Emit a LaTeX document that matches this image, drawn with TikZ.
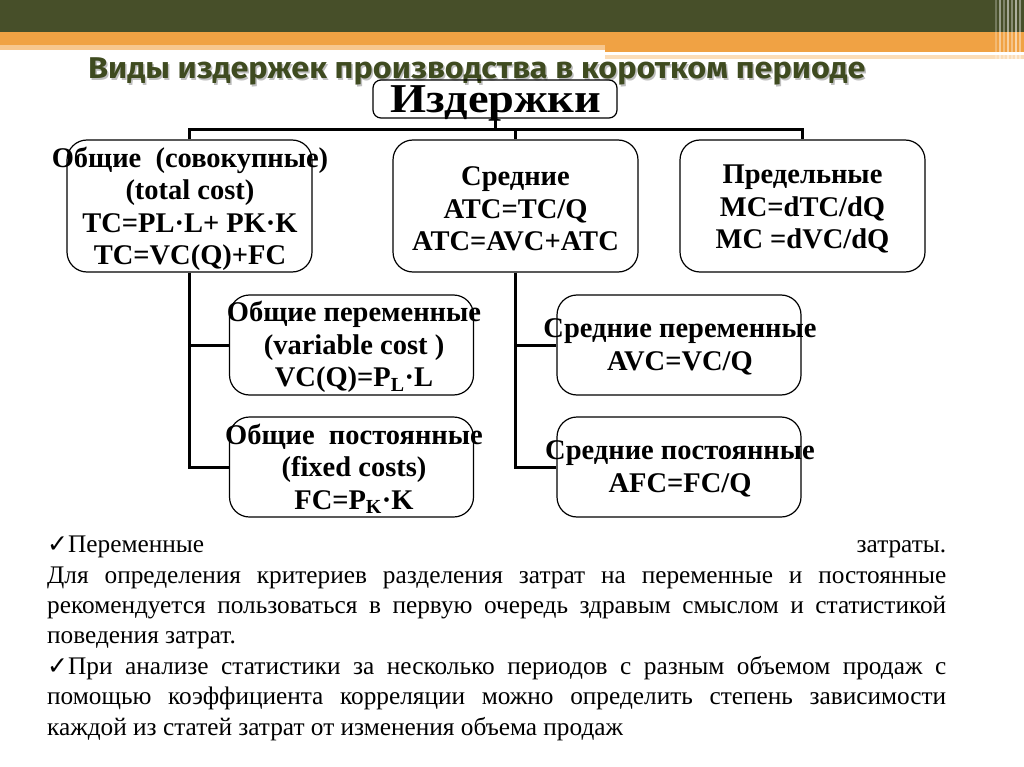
\documentclass[tikz,border=0pt]{standalone}
\usepackage{fontspec}
\setmainfont{Liberation Serif}
\newfontfamily\titlefont{Fira Sans}
\newfontfamily\symfont{DejaVu Sans}
\definecolor{topgreen}{HTML}{474F29}
\definecolor{orA}{HTML}{F0A244}
\definecolor{orB}{HTML}{F7C78F}
\definecolor{orC}{HTML}{FBDDB8}
\definecolor{titlecol}{HTML}{3F4B20}
\newcommand{\titletext}{\scalebox{1.08}[1]{Виды издержек производства в коротком периоде}}
\newcommand{\chk}{{\symfont\fontsize{25}{26}\selectfont ✓}}
\begin{document}
\begin{tikzpicture}[x=1pt,y=-1pt,
  box/.style={draw, line width=1.2pt, rounded corners=20pt, inner sep=0pt},
  bigbox/.style={box, minimum width=245pt, minimum height=132pt},
  smallbox/.style={box, minimum width=244pt, minimum height=100pt},
  conn/.style={line width=3pt},
  btxt/.style={font=\fontsize{28.5}{32.5}\selectfont\bfseries, align=center, inner sep=0pt},
  body/.style={font=\fontsize{25.3}{28}\selectfont, anchor=base west, inner sep=0pt},
  ttl/.style={anchor=base west, inner sep=0pt, font=\titlefont\bfseries\fontsize{30}{32}\selectfont}]
\useasboundingbox (0,0) rectangle (1024,767);
% top decoration
\fill[topgreen] (0,0) rectangle (1024,32);
\fill[orA] (0,32) rectangle (1024,45);
\fill[orB] (0,45) rectangle (605,50);
\fill[orA] (605,45) rectangle (1024,52.5);
\fill[orC] (605,55.5) rectangle (1024,59);
\foreach \xx/\op in {996/0.25,1000/0.45,1004/0.3,1008/0.5,1012/0.35,1016/0.55,1020/0.4}
  \draw[white, opacity=\op, line width=1.6pt] (\xx,0) -- (\xx,59);
% title
\node[ttl, text=black!25] (titleshadow) at (89.5,80.5) {\titletext};
\node[ttl, text=titlecol] (title) at (88,79) {\titletext};
% boxes
\node[box, rounded corners=8pt, minimum width=244pt, minimum height=38pt] (root) at (495,99) {};
\node[anchor=base, inner sep=0pt, font=\fontsize{41}{43}\selectfont\bfseries] (roott) at (496,113) {\scalebox{1.13}[1]{Издержки}};
\node[bigbox] (b1) at (189.5,206) {};
\node[bigbox] (b2) at (515.5,206) {};
\node[bigbox] (b3) at (802.5,206) {};
\node[smallbox] (b4) at (351.5,345) {};
\node[smallbox] (b5) at (351.5,467) {};
\node[smallbox] (b6) at (679,345) {};
\node[smallbox] (b7) at (679,467) {};
% connectors
\draw[conn] (root.south) -- ++(0,12);
\draw[conn] (b1.north) -- ++(0,-10) -| (b3.north);
\draw[conn] (b2.north) -- ++(0,-10);
\draw[conn] (b1.south) |- (b5.west);
\draw[conn] (b1.south |- b4.west) -- (b4.west);
\draw[conn] (b2.south) |- (b7.west);
\draw[conn] (b2.south |- b6.west) -- (b6.west);
% box texts
\node[btxt] (t1) at (190,209) {Общие\ \ (совокупные)\\(total cost)\\TC=PL·L+ PK·K\\TC=VC(Q)+FC};
\node[btxt] (t2) at (515.5,209) {Средние\\ATC=TC/Q\\ATC=AVC+ATC};
\node[btxt] (t3) at (802.5,209) {Предельные\\MC=dTC/dQ\\MC =dVC/dQ};
\node[btxt] (t4) at (354,347) {Общие переменные\\(variable cost )\\VC(Q)=P\textsubscript{L}·L};
\node[btxt] (t5) at (354,469) {Общие\ \ постоянные\\(fixed costs)\\FC=P\textsubscript{K}·K};
\node[btxt] (t6) at (680,347) {Средние переменные\\AVC=VC/Q};
\node[btxt] (t7) at (680,469) {Средние постоянные\\AFC=FC/Q};
% bottom text
\node[body] (l1) at (47,552) {\makebox[899pt][s]{\chk Переменные \hfill затраты.}};
\node[body] (l2) at (47,583) {\makebox[899pt][s]{Для определения критериев разделения затрат на переменные и постоянные}};
\node[body] (l3) at (47,613) {\makebox[899pt][s]{рекомендуется пользоваться в первую очередь здравым смыслом и статистикой}};
\node[body] (l4) at (47,643) {поведения затрат.};
\node[body] (l5) at (47,674) {\makebox[899pt][s]{\chk При анализе статистики за несколько периодов с разным объемом продаж с}};
\node[body] (l6) at (47,704) {\makebox[899pt][s]{помощью коэффициента корреляции можно определить степень зависимости}};
\node[body] (l7) at (47,735) {каждой из статей затрат от изменения объема продаж};
\end{tikzpicture}
\end{document}
